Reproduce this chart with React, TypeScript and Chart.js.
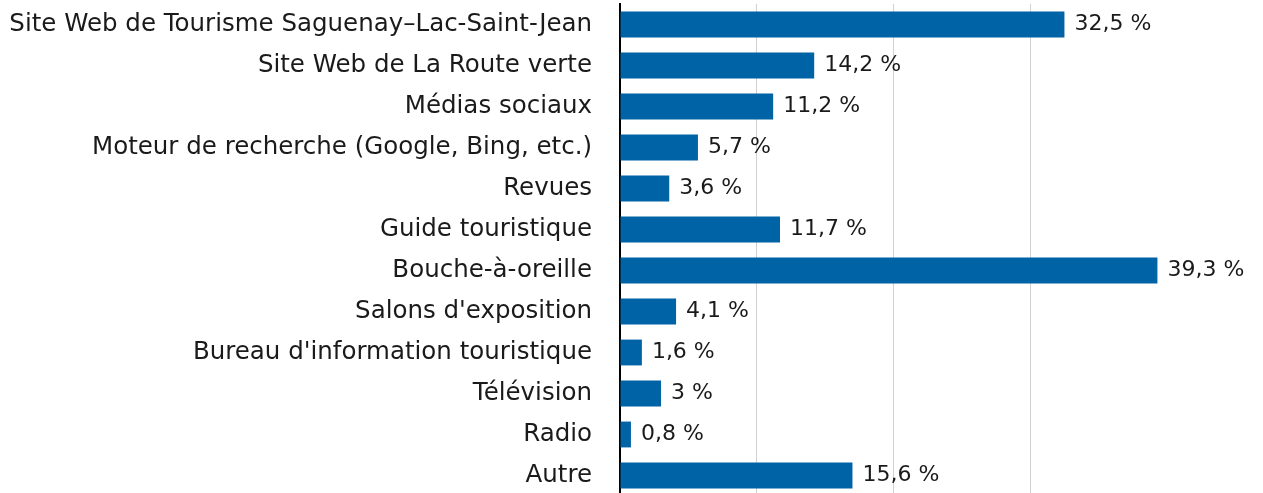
import React, { useEffect, useRef } from "react";
import { Chart, registerables } from "chart.js";

Chart.register(...registerables);

const categories = [
  "Site Web de Tourisme Saguenay–Lac-Saint-Jean",
  "Site Web de La Route verte",
  "Médias sociaux",
  "Moteur de recherche (Google, Bing, etc.)",
  "Revues",
  "Guide touristique",
  "Bouche-à-oreille",
  "Salons d'exposition",
  "Bureau d'information touristique",
  "Télévision",
  "Radio",
  "Autre",
];

// bar lengths as drawn in the picture
const values = [32.5, 14.2, 11.2, 5.7, 3.6, 11.7, 39.3, 4.1, 1.6, 3, 0.8, 17.0];

// value labels as printed in the picture
const valueTexts = [
  "32,5 %",
  "14,2 %",
  "11,2 %",
  "5,7 %",
  "3,6 %",
  "11,7 %",
  "39,3 %",
  "4,1 %",
  "1,6 %",
  "3 %",
  "0,8 %",
  "15,6 %",
];

const xTicks = [0, 10, 20, 30, 40];

const FONT = "'DejaVu Sans', sans-serif";
const LABEL_SIZE = 24.5;
const VALUE_SIZE = 22;
const BAR_COLOR = "#0063a6";
const TEXT_COLOR = "#1a1a1a";

const valueLabels = {
  id: "valueLabels",
  afterDatasetsDraw(chart: any) {
    const ctx = chart.ctx;
    const meta = chart.getDatasetMeta(0);
    ctx.save();
    ctx.font = `${VALUE_SIZE}px ${FONT}`;
    ctx.fillStyle = TEXT_COLOR;
    ctx.textAlign = "left";
    ctx.textBaseline = "middle";
    meta.data.forEach((bar: any, i: number) => {
      ctx.fillText(valueTexts[i], bar.x + 10, bar.y);
    });
    ctx.restore();
  },
};

export default function App() {
  const ref = useRef<HTMLCanvasElement | null>(null);

  useEffect(() => {
    if (!ref.current) return;
    const chart = new Chart(ref.current, {
      type: "bar",
      data: {
        labels: categories,
        datasets: [
          {
            data: values,
            backgroundColor: BAR_COLOR,
            barPercentage: 0.63,
            categoryPercentage: 1,
          },
        ],
      },
      plugins: [valueLabels],
      options: {
        indexAxis: "y",
        animation: false,
        responsive: false,
        layout: {
          autoPadding: false,
          padding: { top: 4, right: 96, bottom: 0, left: 0 },
        },
        plugins: {
          legend: { display: false },
          tooltip: { enabled: false },
        },
        scales: {
          x: {
            min: 0,
            max: 40,
            afterBuildTicks: (scale: any) => {
              scale.ticks = xTicks.map((v) => ({ value: v }));
            },
            afterFit: (scale: any) => {
              scale.height = 0;
              scale.paddingLeft = 0;
              scale.paddingRight = 0;
            },
            ticks: { display: false },
            border: { display: false },
            grid: {
              drawTicks: false,
              lineWidth: 1,
              color: (c: any) =>
                c.tick && (c.tick.value === 0 || c.tick.value === 40)
                  ? "rgba(0,0,0,0)"
                  : "#d0d0d0",
            },
          },
          y: {
            afterFit: (scale: any) => {
              scale.width = 620;
              scale.paddingTop = 0;
              scale.paddingBottom = 0;
            },
            border: { display: true, color: "#000000", width: 2 },
            grid: { display: false, drawTicks: false },
            ticks: {
              padding: 28,
              color: TEXT_COLOR,
              font: { family: FONT, size: LABEL_SIZE },
            },
          },
        },
      },
    });
    return () => chart.destroy();
  }, []);

  return (
    <div
      style={{
        position: "fixed",
        left: 0,
        top: 0,
        width: 1263,
        height: 493,
        overflow: "hidden",
        background: "#ffffff",
      }}
    >
      <canvas ref={ref} width={1263} height={496} style={{ display: "block" }} />
    </div>
  );
}
